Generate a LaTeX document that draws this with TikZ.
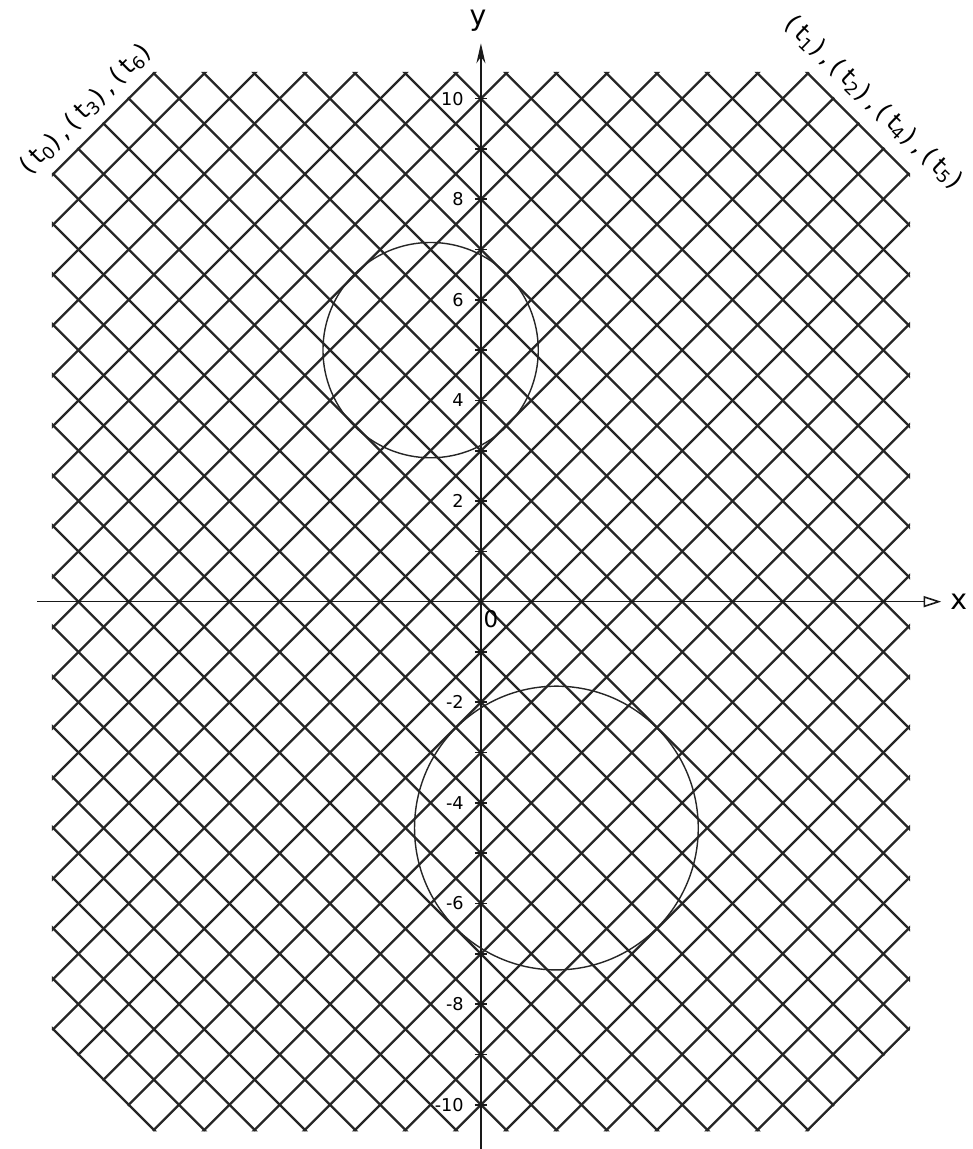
\documentclass[tikz,border=0pt]{standalone}
\usepackage{fontspec}
\setsansfont{DejaVu Sans}
\newfontfamily\letfont[LetterSpace=20]{DejaVu Sans}
\usetikzlibrary{arrows.meta}
\tikzset{
	gridline/.style={line width=1.3pt,black!85},
	axisline/.style={line width=0.9pt,black!90},
	circline/.style={line width=0.8pt,black!85},
	ticklab/.style={font=\sffamily\fontsize{10}{12}\selectfont,anchor=east,inner sep=1pt},
	axislab/.style={font=\sffamily\fontsize{16}{18}\selectfont,inner sep=0pt},
	cornerlab/.style={font=\letfont\fontsize{14}{16}\selectfont,inner sep=0pt}
}
\newcommand{\tsub}[1]{(t\textsubscript{#1})}

\begin{document}
\begin{tikzpicture}
	\useasboundingbox (-9.56,-10.88) rectangle (9.78,11.96);
	% diagonal grid, cut off at the four corners
	\begin{scope}
		\clip (-6.51,10.53)--(6.51,10.53)--(8.53,8.51)--(8.53,-8.51)--(6.51,-10.53)--(-6.51,-10.53)--(-8.53,-8.51)--(-8.53,8.51)--cycle;
		\foreach \n in {-18,...,18}{
			\draw[gridline] (\n-12,12)--(\n+12,-12);
			\draw[gridline] (\n-12,-12)--(\n+12,12);
		}
	\end{scope}
	% axes
	\coordinate (xl) at (-8.82,0);
	\coordinate (xr) at (9.15,0);
	\coordinate (yb) at (0,-10.88);
	\coordinate (yt) at (0,11.1);
	\draw[axisline,-{Triangle[open,length=3.5mm,width=2.2mm]}] (xl)--(xr);
	\draw[axisline,-{Stealth[length=4mm,width=1.8mm]}] (yb)--(yt);
	\node[axislab] (xlab) at (9.5,0) {x};
	\node[axislab] (ylab) at (-0.06,11.55) {y};
	\foreach \k in {-10,...,10}
		\draw[axisline] (-0.12,\k)--(0.12,\k);
	\foreach \k in {10,8,6,4,2,-2,-4,-6,-8,-10}
		\node[ticklab] (lab\k) at (-0.3,\k) {\k};
	\node[axislab,font=\sffamily\fontsize{13}{15}\selectfont] (orig) at (0.2,-0.34) {0};
	% the two circles
	\draw[circline] (-1,5) circle (2.14);
	\draw[circline] (1.5,-4.5) circle (2.82);
	% the two sets of instants
	\node[cornerlab,rotate=45] (setA) at (-7.86,9.78) {\tsub{0},\tsub{3},\tsub{6}};
	\node[cornerlab,rotate=-44] (setB) at (7.8,9.92) {\tsub{1},\tsub{2},\tsub{4},\tsub{5}};
\end{tikzpicture}
\end{document}
